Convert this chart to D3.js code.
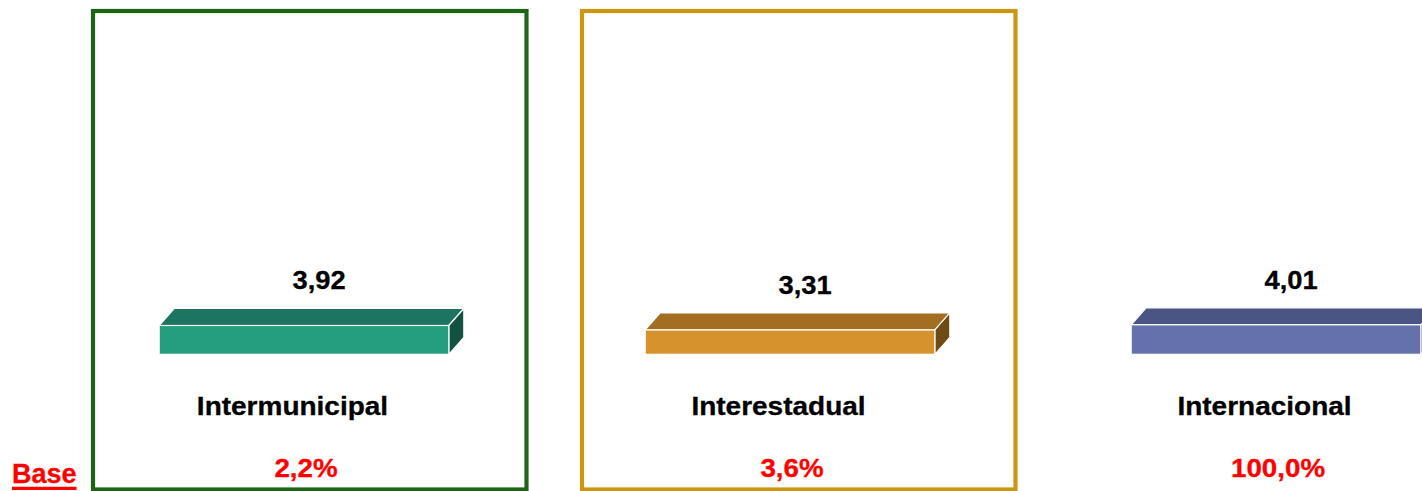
<!DOCTYPE html>
<html><head><meta charset="utf-8">
<script src="https://cdn.jsdelivr.net/npm/d3@7"></script>
<style>html,body{margin:0;padding:0;background:#fff;overflow:hidden}</style>
</head><body><svg id="c" width="1422" height="491"></svg>
<script>
const categories = ["Intermunicipal", "Interestadual", "Internacional"];
const values = [3.92, 3.31, 4.01];
const valueLabels = ["3,92", "3,31", "4,01"];
const baseLabels = ["2,2%", "3,6%", "100,0%"];
const frontColors = ["#239e7e", "#d6922c", "#6571ab"];
const topColors = ["#1b7560", "#a46e22", "#4a5583"];
const sideColors = ["#125241", "#6e4a15", "#323a5c"];
const boxColors = ["#1e6415", "#cc960f", null];

const svg = d3.select("#c");
const FONT = "'Liberation Sans', Arial, sans-serif";
const x = d3.scaleBand().domain(categories).range([61, 61 + 3 * 486]).paddingInner(0.404).paddingOuter(0.202);
const y = d3.scaleLinear().domain([0, 5]).range([354.3, 354.3 - 5 * 7.35]);
const dx = 15, dy = 17;
const bw = x.bandwidth();

// boxes
categories.forEach((c, i) => {
  if (!boxColors[i]) return;
  const cx = x(c) + bw / 2;
  svg.append("rect").attr("x", cx - 211 + i * 3).attr("y", 11).attr("width", 433.5).attr("height", 478.5)
    .attr("fill", "none").attr("stroke", boxColors[i]).attr("stroke-width", 4.2);
});

const g = svg.append("g").selectAll("g").data(categories).join("g");
g.each(function (c, i) {
  const s = d3.select(this);
  const x0 = x(c), x1 = x0 + bw, yt = y(values[i]), yb = y(0);
  s.append("path").attr("d", `M${x0},${yt}L${x0 + dx},${yt - dy}L${x1 + dx},${yt - dy}L${x1},${yt}Z`)
    .attr("fill", topColors[i]).attr("stroke", "#fff").attr("stroke-width", 1.2);
  s.append("path").attr("d", `M${x1},${yt}L${x1 + dx},${yt - dy}L${x1 + dx},${yb - dy}L${x1},${yb}Z`)
    .attr("fill", sideColors[i]).attr("stroke", "#fff").attr("stroke-width", 1.2);
  s.append("rect").attr("x", x0).attr("y", yt).attr("width", bw).attr("height", yb - yt)
    .attr("fill", frontColors[i]).attr("stroke", "#fff").attr("stroke-width", 1.2);

  s.append("text").attr("transform", `translate(${x0 + bw / 2 + dx},${yt - dy - 19}) scale(1.05,1)`)
    .attr("text-anchor", "middle").attr("font-family", FONT).attr("font-weight", "bold")
    .attr("font-size", 26).attr("fill", "#000").attr("stroke", "#000").attr("stroke-width", 0.3).text(valueLabels[i]);
  s.append("text").attr("transform", `translate(${x0 + bw / 2 - 11.5},414.5) scale(1.12,1)`)
    .attr("text-anchor", "middle").attr("font-family", FONT).attr("font-weight", "bold")
    .attr("font-size", 25).attr("fill", "#000").attr("stroke", "#000").attr("stroke-width", 0.3).text(c);
  s.append("text").attr("transform", `translate(${x0 + bw / 2 + 2},476.5) scale(1.11,1)`)
    .attr("text-anchor", "middle").attr("font-family", FONT).attr("font-weight", "bold")
    .attr("font-size", 25).attr("fill", "#ff0000").attr("stroke", "#ff0000").attr("stroke-width", 0.3).text(baseLabels[i]);
});

const base = svg.append("text").attr("x", 12).attr("y", 483.3).attr("font-family", FONT).attr("font-weight", "bold")
  .attr("font-size", 27).attr("fill", "#ff0000").attr("stroke", "#ff0000").attr("stroke-width", 0.3).text("Base");
const bb = base.node().getBBox();
svg.append("line").attr("x1", bb.x).attr("x2", bb.x + bb.width).attr("y1", 488.3).attr("y2", 488.3)
  .attr("stroke", "#ff0000").attr("stroke-width", 3.2);
</script></body></html>
